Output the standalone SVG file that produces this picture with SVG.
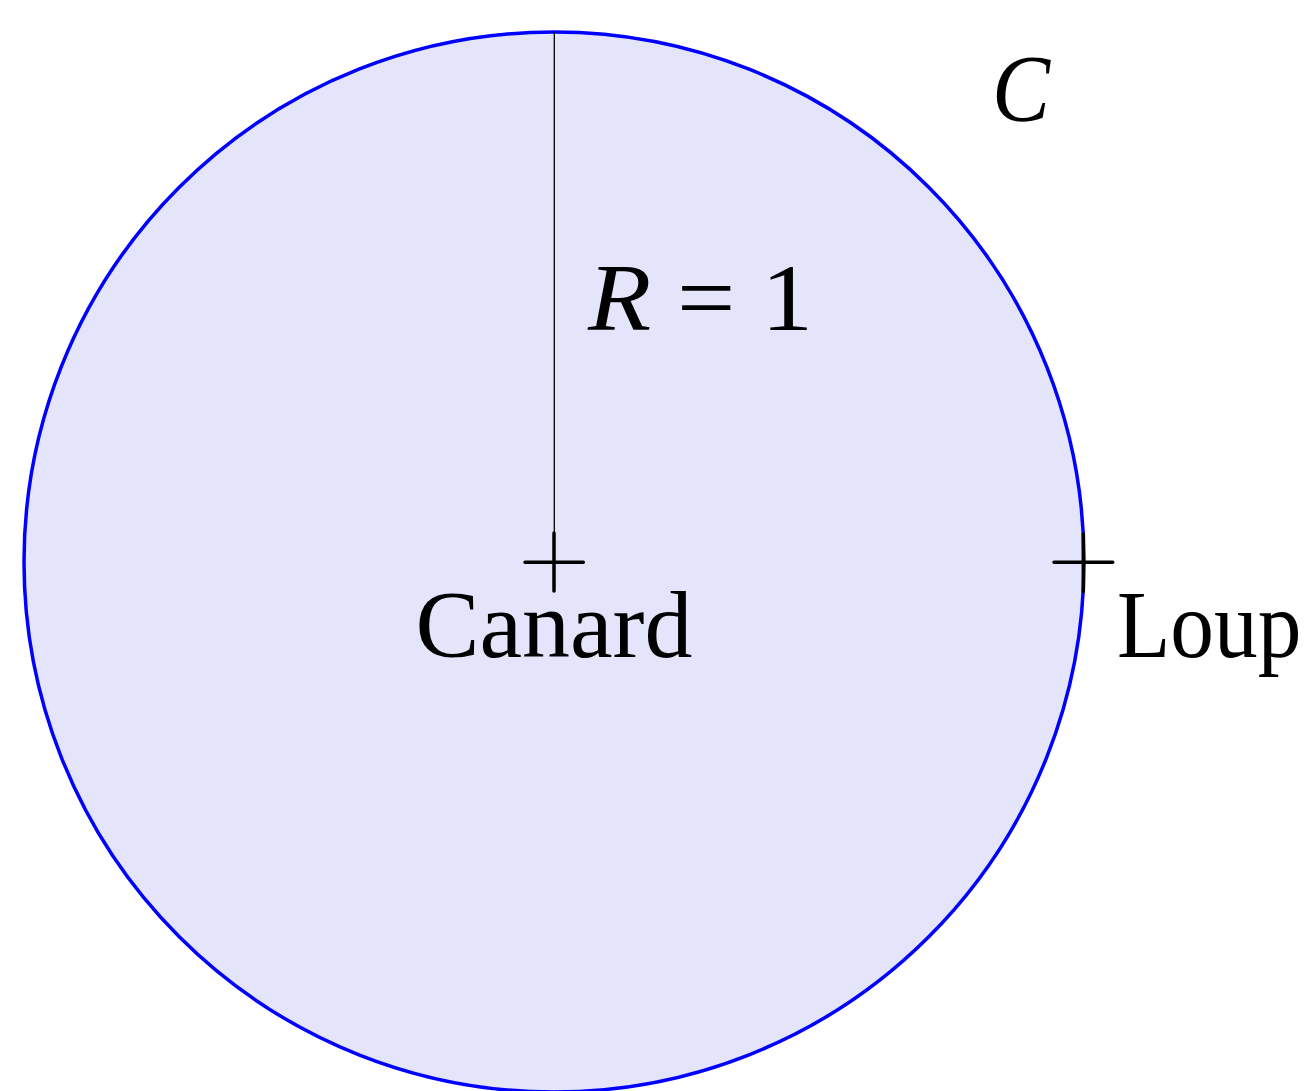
<svg xmlns="http://www.w3.org/2000/svg" width="1309" height="1091" viewBox="0 0 1309 1091">
<style>
.lbl{font-family:"Liberation Serif","DejaVu Serif",serif;font-size:96px;fill:#000}
.cross{stroke:#000;stroke-width:3.5;stroke-linecap:round;fill:none}
</style>
<rect width="1309" height="1091" fill="#fff"/>
<g id="circle">
<circle cx="554" cy="562" r="530" fill="#e4e4fb" stroke="#0000ff" stroke-width="3.5"/>
</g>
<g id="connectors">
<line x1="554.3" y1="32" x2="554.3" y2="562" stroke="#000" stroke-width="1.3"/>
</g>
<g id="canard">
<path class="cross" d="M525 562.3H583.3M554 533V591"/>
<text class="lbl" x="554" y="657" text-anchor="middle" textLength="277" lengthAdjust="spacingAndGlyphs">Canard</text>
</g>
<g id="loup">
<path class="cross" d="M1054 562.3H1112.7M1083.3 534V591.7"/>
<text class="lbl" transform="translate(1117 657) scale(0.91 1)" x="0" y="0">Loup</text>
</g>
<g id="radius-label">
<text class="lbl" x="588" y="330" textLength="225" lengthAdjust="spacingAndGlyphs"><tspan font-style="italic">R</tspan> = 1</text>
</g>
<g id="circle-label">
<text class="lbl" x="992" y="121" font-size="100" font-style="italic" textLength="58" lengthAdjust="spacingAndGlyphs">C</text>
</g>
</svg>
